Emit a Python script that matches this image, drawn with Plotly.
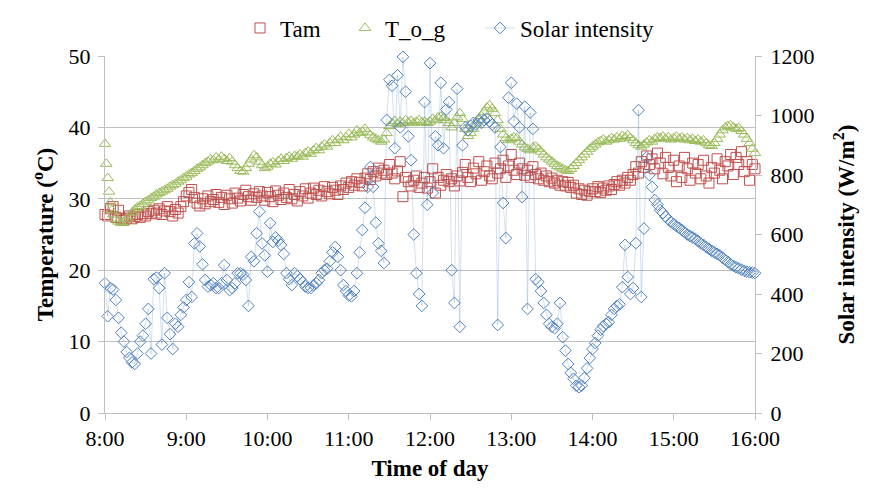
import plotly.graph_objects as go

# ---------------- data ----------------
tick_minutes = [0, 60, 120, 180, 240, 300, 360, 420, 480]
tick_labels = ["8:00", "9:00", "10:00", "11:00", "12:00", "13:00", "14:00", "15:00", "16:00"]

# minutes after 8:00
tam_minutes = list(range(0, 481, 2))
solar_minutes = list(range(0, 481, 2))
tog_minutes = [0, 1, 2, 3, 4, 5] + list(range(6, 481, 2))

tam = [
    27.8, 27.6, 28.6, 28.9, 27.4, 28.4, 27.2, 27.0, 27.3, 27.6,
    27.2, 27.5, 27.8, 27.4, 27.9, 27.6, 28.2, 27.9, 28.4, 28.0,
    28.6, 27.8, 28.3, 28.9, 28.2, 27.6, 28.5, 28.0, 28.9, 29.6,
    30.4, 30.9, 31.3, 30.2, 29.4, 29.0, 30.0, 29.3, 30.4, 29.6,
    29.9, 30.6, 29.5, 30.2, 29.2, 30.5, 30.0, 29.4, 30.8, 30.1,
    29.7, 30.6, 31.2, 30.3, 29.8, 30.7, 30.2, 31.0, 30.4, 29.8,
    30.9, 30.3, 29.6, 31.1, 30.5, 29.9, 30.8, 30.2, 31.3, 30.0,
    30.6, 29.7, 31.0, 30.4, 31.4, 30.1, 30.8, 31.5, 30.6, 31.2,
    30.4, 31.7, 31.0, 30.7, 31.6, 31.2, 30.6, 31.8, 31.3, 32.2,
    31.6, 32.4, 31.9, 32.8, 32.3, 31.8, 32.9, 33.5, 32.7, 33.8,
    33.2, 34.3, 33.6, 34.0, 33.4, 34.8, 33.6, 32.8, 33.9, 35.2,
    30.3, 33.0, 32.4, 31.8, 32.6, 33.2, 31.6, 32.2, 33.0, 31.5,
    32.4, 34.2, 30.8, 33.0, 31.9, 32.6, 33.4, 32.4, 32.8, 31.8,
    33.2, 32.5, 33.7, 34.8, 33.0, 32.4, 34.3, 33.5, 35.2, 32.6,
    33.8, 34.6, 33.2, 32.8, 35.0, 33.6, 34.2, 35.4, 33.0, 34.6,
    36.2, 34.0, 33.4, 35.0, 34.2, 33.3, 34.0, 33.0, 34.5, 33.4,
    32.8, 33.6, 32.6, 33.2, 32.4, 32.9, 32.2, 32.6, 31.9, 32.4,
    31.8, 32.3, 31.6, 31.9, 30.8, 31.4, 30.6, 31.2, 30.5, 31.0,
    31.4, 31.0, 31.7, 30.9, 31.5, 31.2, 31.8, 31.3, 32.0, 32.4,
    31.9, 32.6, 32.2, 33.0, 32.6, 33.4, 34.5, 33.6, 35.2, 34.4,
    36.0, 34.8, 35.6, 34.2, 36.4, 35.0, 33.5, 35.8, 34.4, 33.2,
    35.4, 32.4, 34.6, 33.0, 35.8, 34.2, 32.6, 35.0, 33.6, 34.8,
    32.8, 35.4, 33.2, 32.2, 34.4, 33.6, 35.6, 34.0, 32.8, 35.2,
    34.6, 36.2, 33.4, 35.8, 34.8, 36.6, 33.8, 35.2, 32.6, 34.8,
    34.2,
]

tog = [
    37.7, 34.9, 32.9, 31.0, 29.5, 28.4,
    27.8, 27.2, 26.8, 26.6, 26.8, 27.2, 27.6, 28.1, 28.5, 28.8,
    29.0, 29.3, 29.6, 29.8, 30.1, 30.3, 30.6, 30.8, 31.0, 31.2,
    31.4, 31.7, 31.9, 32.1, 32.4, 32.6, 32.9, 33.1, 33.4, 33.6,
    33.9, 34.2, 34.4, 34.7, 35.0, 35.2, 35.5, 35.4, 35.8, 35.5,
    35.9, 35.6, 35.3, 35.7, 35.2, 34.7, 34.3, 33.9, 33.8, 34.3,
    34.9, 35.5, 36.1, 35.8, 35.2, 34.7, 34.3, 34.5, 34.9, 35.1,
    34.8, 35.3, 35.6, 35.3, 35.7, 35.9, 35.6, 36.0, 35.9, 36.2,
    35.9, 36.4, 36.6, 36.3, 36.8, 37.1, 36.8, 37.3, 37.6, 37.3,
    37.8, 38.2, 37.8, 38.3, 38.7, 38.2, 38.6, 39.1, 38.6, 39.0,
    39.6, 39.2, 39.4, 39.8, 39.3, 38.9, 38.6, 38.4, 38.2, 38.0,
    38.3, 39.2, 40.2, 40.6, 40.9, 40.5, 40.8, 40.6, 41.0, 40.7,
    40.9, 40.6, 40.8, 41.0, 40.7, 40.8, 40.6, 40.8, 41.2, 41.0,
    41.4, 41.5, 41.3, 41.0, 40.6, 40.0, 40.6, 41.4, 42.0, 41.2,
    39.8, 38.8, 39.2, 39.8, 40.4, 41.0, 41.6, 42.2, 42.8, 43.1,
    42.6, 42.0, 41.0, 39.8, 39.0, 38.5, 38.2, 38.4, 38.6, 38.5,
    38.0, 37.6, 37.2, 37.0, 36.8, 37.2, 37.3, 37.0, 36.6, 36.2,
    35.8, 35.5, 35.2, 34.9, 34.6, 34.4, 34.2, 34.0, 33.9, 34.2,
    34.6, 35.0, 35.4, 35.8, 36.2, 36.6, 37.0, 37.3, 37.6, 37.9,
    38.1, 38.3, 38.0, 38.2, 38.5, 38.3, 38.6, 38.4, 38.8, 38.6,
    38.9, 38.5, 38.2, 37.8, 37.5, 37.3, 37.6, 37.9, 38.2, 38.0,
    38.4, 38.6, 38.5, 38.7, 38.4, 38.6, 38.3, 38.5, 38.7, 38.4,
    38.6, 38.3, 38.5, 38.2, 38.4, 38.1, 38.3, 38.0, 38.2, 37.8,
    37.5, 37.4, 37.8, 38.4, 39.0, 39.6, 40.0, 40.2, 40.3, 40.0,
    39.8, 39.9, 39.5, 39.0, 38.4, 37.8, 37.0, 36.4,
]

solar = [
    436, 325, 420, 415, 380, 320, 270, 240, 205, 185,
    170, 165, 200, 240, 260, 300, 350, 200, 450, 455,
    420, 230, 470, 320, 265, 215, 300, 290, 330, 355,
    380, 440, 390, 570, 604, 560, 500, 447, 425, 430,
    436, 420, 420, 436, 497, 447, 413, 420, 436, 470,
    470, 465, 447, 360, 525, 510, 604, 677, 570, 530,
    475, 638, 575, 590, 580, 565, 535, 470, 450, 430,
    470, 460, 450, 440, 425, 420, 420, 430, 436, 447,
    470, 480, 485, 510, 540, 558, 525, 480, 430, 410,
    395, 392, 410, 470, 540, 615, 690, 760, 827, 760,
    640, 570, 545, 504, 985, 1120, 1100, 890, 1135, 960,
    1197, 1080, 930, 850, 600, 470, 400, 360, 1045, 700,
    1176, 740, 930, 900, 1110, 890, 1020, 1045, 480, 370,
    1090, 290, 900, 960, 950, 965, 975, 970, 985, 975,
    985, 990, 980, 970, 960, 296, 894, 706, 588, 1060,
    1110, 980, 1040, 960, 726, 1030, 350, 1010, 955, 450,
    440, 410, 370, 330, 300, 290, 285, 300, 370, 255,
    210, 165, 135, 115, 92, 87, 92, 118, 150, 185,
    215, 235, 260, 280, 292, 300, 305, 330, 350, 360,
    365, 423, 565, 457, 400, 420, 571, 1018, 390, 620,
    860, 800, 760, 716, 700, 682, 672, 660, 650, 642,
    635, 628, 622, 615, 608, 600, 595, 590, 585, 578,
    570, 565, 558, 552, 545, 540, 535, 530, 522, 515,
    508, 500, 495, 490, 486, 482, 478, 475, 473, 472,
    470,
]

# ---------------- figure ----------------
FONT = "Liberation Serif"
AXIS_GRAY = "#BFBFBF"
FS_TICK = 22
FS_TITLE = 23
FS_LEGEND = 23

fig = go.Figure()
fig.add_trace(go.Scatter(
    x=tam_minutes, y=tam, mode="markers", name="Tam", legend="legend",
    marker=dict(symbol="square-open", size=10, color="#C0504D", line=dict(width=1)),
    cliponaxis=False,
))
fig.add_trace(go.Scatter(
    x=tog_minutes, y=tog, mode="markers", name="T_o_g", legend="legend2",
    marker=dict(symbol="triangle-up-open", size=10, color="#9BBB59", line=dict(width=1)),
    cliponaxis=False,
))
fig.add_trace(go.Scatter(
    x=solar_minutes, y=solar, mode="lines+markers", name="Solar intensity", yaxis="y2",
    legend="legend3",
    line=dict(color="rgba(79,129,189,0.25)", width=1),
    marker=dict(symbol="diamond-open", size=9, color="#4F81BD", line=dict(width=1)),
    cliponaxis=False,
))


def legend_box(left_px):
    return dict(orientation="h", xref="container", x=left_px / 873, xanchor="left",
                yref="container", y=1 - 28 / 495, yanchor="middle",
                font=dict(family=FONT, size=FS_LEGEND), itemwidth=30,
                bgcolor="rgba(0,0,0,0)")


fig.update_layout(
    width=873, height=495,
    margin=dict(l=105, r=118, t=56, b=82, autoexpand=False),
    plot_bgcolor="white", paper_bgcolor="white",
    font=dict(family=FONT, size=FS_TICK, color="#000000"),
    showlegend=True,
    legend=legend_box(240),
    legend2=legend_box(345),
    legend3=legend_box(480),
    xaxis=dict(
        range=[0, 480], tickvals=tick_minutes, ticktext=tick_labels,
        showgrid=False, zeroline=False, showline=True, linecolor=AXIS_GRAY, linewidth=1,
        ticks="outside", ticklen=6, tickcolor=AXIS_GRAY,
        tickfont=dict(family=FONT, size=FS_TICK),
        title=dict(text="<b>Time of day</b>", font=dict(family=FONT, size=FS_TITLE), standoff=9),
    ),
    yaxis=dict(
        range=[0, 50], tickvals=[0, 10, 20, 30, 40, 50],
        showgrid=True, gridcolor=AXIS_GRAY, gridwidth=1, zeroline=False,
        showline=True, linecolor=AXIS_GRAY, linewidth=1,
        ticks="outside", ticklen=6, tickcolor=AXIS_GRAY, ticklabelstandoff=3,
        tickfont=dict(family=FONT, size=FS_TICK),
        title=dict(text="<b>Temperature (<sup>o</sup>C)</b>", font=dict(family=FONT, size=FS_TITLE), standoff=8),
    ),
    yaxis2=dict(
        range=[0, 1200], tickvals=[0, 200, 400, 600, 800, 1000, 1200],
        overlaying="y", side="right",
        showgrid=False, zeroline=False, showline=True, linecolor=AXIS_GRAY, linewidth=1,
        ticks="outside", ticklen=6, tickcolor=AXIS_GRAY, ticklabelstandoff=4,
        tickfont=dict(family=FONT, size=FS_TICK),
        title=dict(text="<b>Solar intensity (W/m<sup>2</sup>)</b>", font=dict(family=FONT, size=FS_TITLE), standoff=24),
    ),
)

fig.write_html("out.html")
